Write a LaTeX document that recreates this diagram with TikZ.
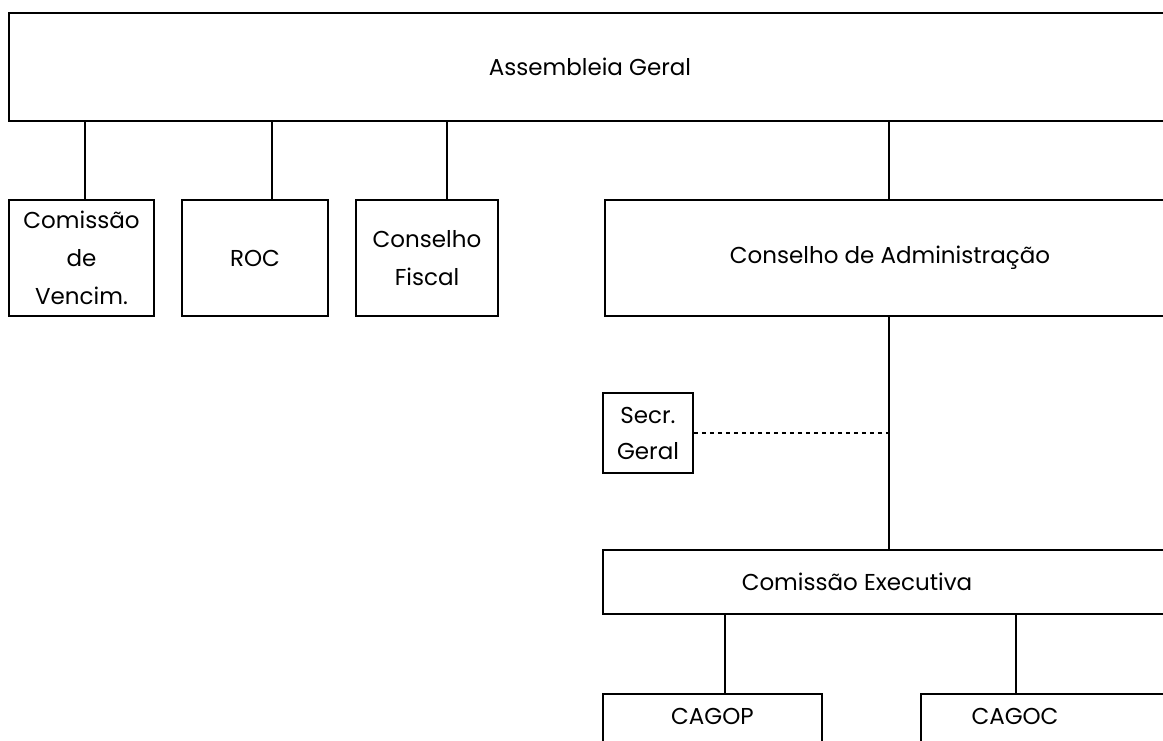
\documentclass[tikz,border=0pt]{standalone}
\usepackage{fontspec}
\setmainfont{Poppins}
\usepackage{tikz}

\begin{document}
\begin{tikzpicture}[x=0.5pt, y=-0.5pt, line width=0.85pt,
    font=\fontsize{11.5}{19}\selectfont]
  \tikzstyle{orgbox} = [rectangle, draw, inner sep=0pt, align=center]
  \tikzstyle{orgline} = [draw]
  \tikzstyle{staffline} = [draw, line width=1.2pt, dash pattern=on 2pt off 2pt]

\useasboundingbox (0,0) rectangle (1163,740);
\clip (0,0) rectangle (1163,740);

% top level
\node[orgbox, minimum width=581pt, minimum height=54pt] (ag) at (590,67) {Assembleia Geral};

% second level
\node[orgbox, minimum width=72.5pt, minimum height=58pt] (cv) at (81.5,258) {Comiss\~ao\\de\\Vencim.};
\node[orgbox, minimum width=73pt, minimum height=58pt] (roc) at (255,258) {ROC};
\node[orgbox, minimum width=71pt, minimum height=58pt] (cf) at (427,258) {Conselho\\Fiscal};
\node[orgbox, minimum width=285pt, minimum height=58pt] (ca) at (890,258) {Conselho de Administra\c{c}\~ao};

% staff and executive
\node[orgbox, minimum width=45pt, minimum height=40pt, font=\fontsize{11.5}{18}\selectfont] (sg) at (648,433) {Secr.\\Geral};
\node[orgbox, minimum width=300pt, minimum height=32pt] (ce) at (903,582) {};
\node (ce-t) at (857,582) {Comiss\~ao Executiva};

% bottom level
\node[orgbox, minimum width=109.5pt, minimum height=50pt, anchor=north] (cagop) at (712.5,693) {};
\node (cagop-t) at (712.5,716) {CAGOP};
\node[orgbox, minimum width=150pt, minimum height=50pt, anchor=north west] (cagoc) at (920,693) {};
\node (cagoc-t) at (1015,716) {CAGOC};

% connectors
\draw[orgline] (cv.north -| 85,0) -- (ag.south -| 85,0);
\draw[orgline] (roc.north -| 272,0) -- (ag.south -| 272,0);
\draw[orgline] (cf.north -| 447,0) -- (ag.south -| 447,0);
\draw[orgline] (ca.north -| 889,0) -- (ag.south -| 889,0);
\draw[orgline] (ca.south -| 889,0) -- (ce.north -| 889,0);
\draw[staffline] (sg.east) -- (sg.east -| 889,0);
\draw[orgline] (ce.south -| 725,0) -- (cagop.north -| 725,0);
\draw[orgline] (ce.south -| 1016,0) -- (cagoc.north -| 1016,0);
\end{tikzpicture}
\end{document}
